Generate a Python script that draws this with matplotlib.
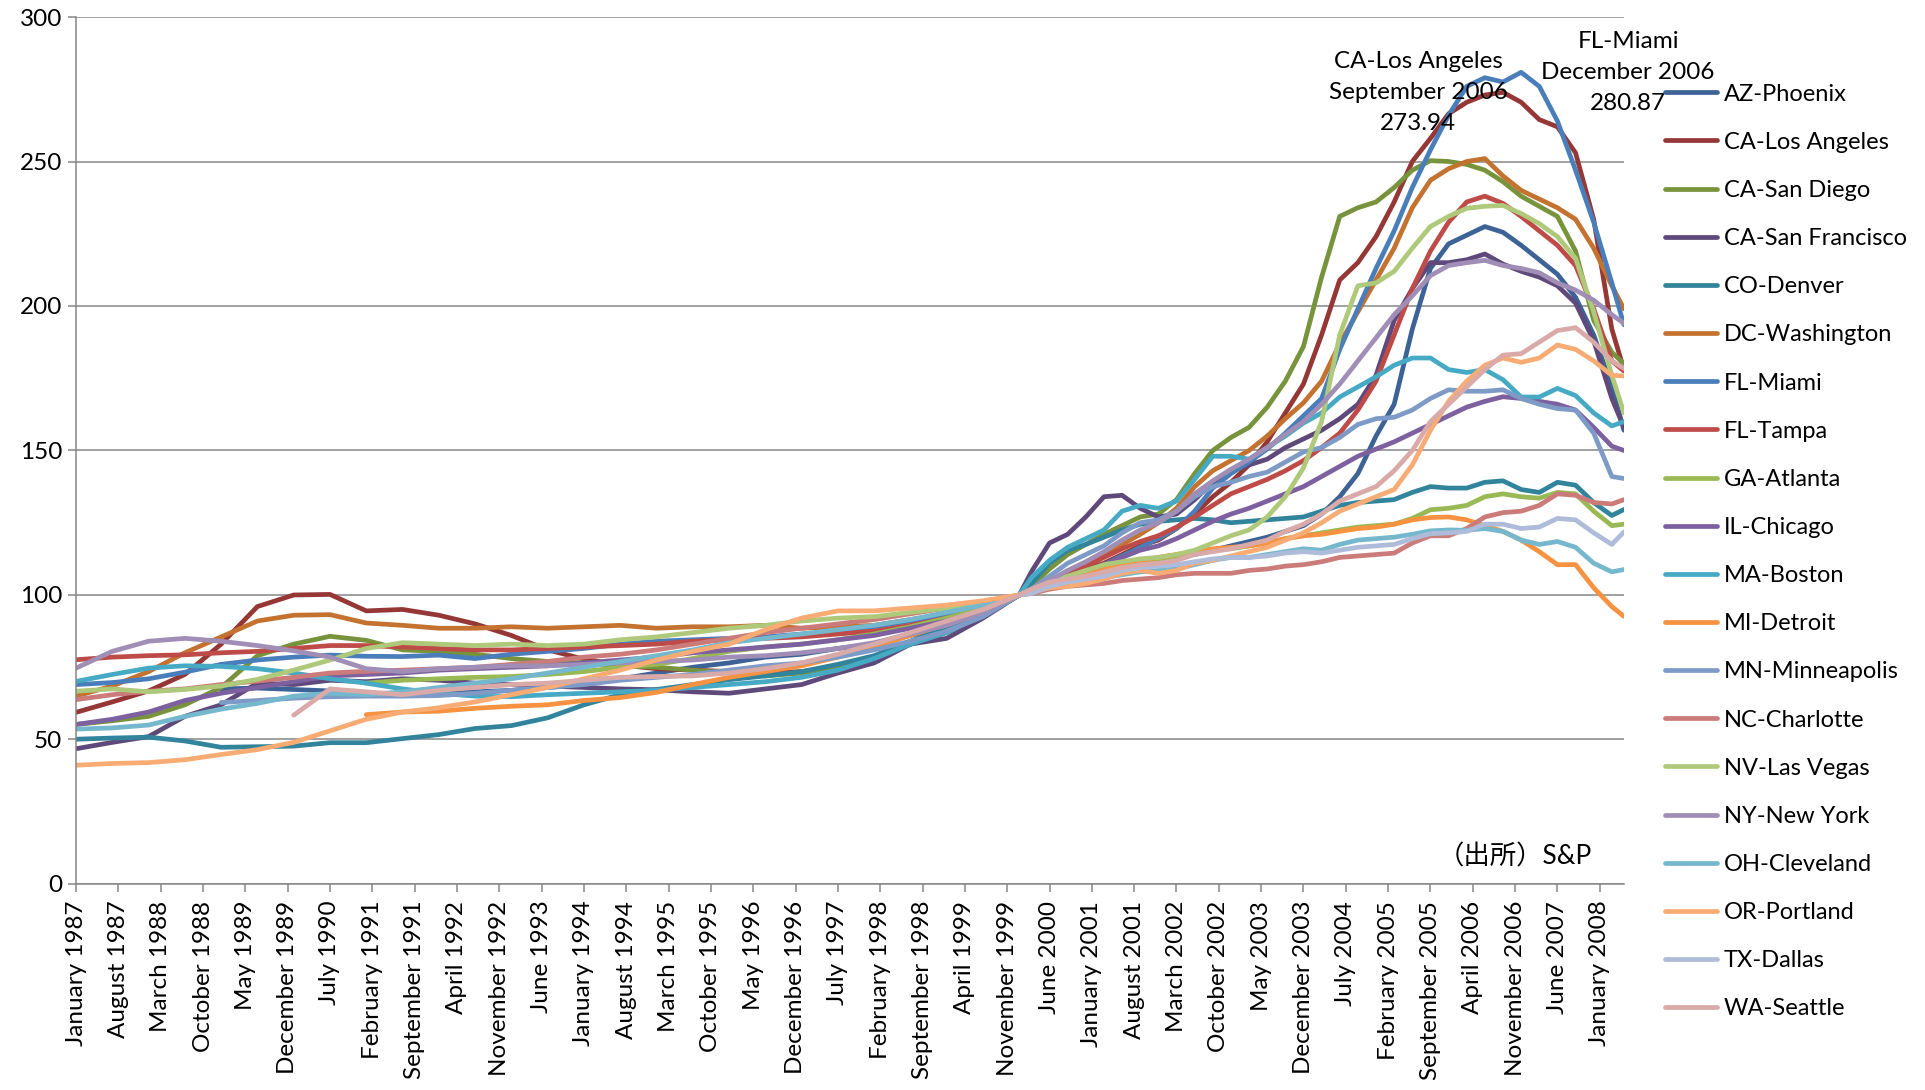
import datetime as dt
import numpy as np
import matplotlib
matplotlib.use('Agg')
import matplotlib.pyplot as plt

plt.rcParams['font.family'] = ['Lato', 'Noto Sans CJK JP', 'DejaVu Sans']

# 時点（半年ごと → 2000年以降は四半期ごと）
dates = ['1987-01', '1987-07', '1988-01', '1988-07', '1989-01', '1989-07', '1990-01', '1990-07',
         '1991-01', '1991-07', '1992-01', '1992-07', '1993-01', '1993-07', '1994-01', '1994-07',
         '1995-01', '1995-07', '1996-01', '1996-07', '1997-01', '1997-07', '1998-01', '1998-07',
         '1999-01', '1999-07',
         '2000-01',
         '2000-03', '2000-06', '2000-09', '2000-12', '2001-03', '2001-06', '2001-09', '2001-12',
         '2002-03', '2002-06', '2002-09', '2002-12', '2003-03', '2003-06', '2003-09', '2003-12',
         '2004-03', '2004-06', '2004-09', '2004-12', '2005-03', '2005-06', '2005-09', '2005-12',
         '2006-03', '2006-06', '2006-09', '2006-12', '2007-03', '2007-06', '2007-09', '2007-12',
         '2008-03', '2008-05']

tick_labels = ['January 1987', 'August 1987', 'March 1988', 'October 1988', 'May 1989',
               'December 1989', 'July 1990', 'February 1991', 'September 1991', 'April 1992',
               'November 1992', 'June 1993', 'January 1994', 'August 1994', 'March 1995',
               'October 1995', 'May 1996', 'December 1996', 'July 1997', 'February 1998',
               'September 1998', 'April 1999', 'November 1999', 'June 2000', 'January 2001',
               'August 2001', 'March 2002', 'October 2002', 'May 2003', 'December 2003',
               'July 2004', 'February 2005', 'September 2005', 'April 2006', 'November 2006',
               'June 2007', 'January 2008']

N = None
az_phoenix = [N, N, N, N, 67.5, 67.8, 67.3, 66.8, 65.5, 66.0, 65.8, 66.5, 67.0, 68.0, 69.0, 71.0,
              73.0, 75.0, 76.5, 78.5, 79.5, 81.5, 83.0, 86.0, 89.0, 93.0, 100,
              101, 104, 106.5, 108, 109.5, 111, 112, 112.5, 113.5, 114, 115.5, 117, 118.5, 120,
              122, 124, 128, 134, 142, 155, 166, 192, 213, 221.5, 224.5, 227.5, 225.5, 221,
              216, 211, 203, 190, 172, 157]
ca_los_angeles = [59.4, 63, 66.8, 72.5, 83, 96, 100, 100.2, 94.5, 95, 93, 90, 86, 81, 77.8, 75.8,
                  74.5, 74, 73.5, 73, 73.5, 75, 78.5, 83, 87.5, 93, 100,
                  102, 104.5, 107, 109, 111, 114, 117, 119, 123, 128, 134, 139, 145, 153, 163,
                  173, 190, 209, 215, 224, 236, 250, 258, 266.5, 270.5, 273, 273.94, 270.5,
                  264.5, 262, 253, 230, 192, 178]
ca_san_diego = [55.2, 56.5, 58, 62, 68, 79, 83, 85.7, 84.3, 81, 80.5, 79.5, 78, 77, 76.5, 75.5,
                75, 74, 73, 72, 73, 75, 78.5, 83, 87, 93, 100,
                103, 109, 114, 117.5, 121, 124, 127, 128, 133, 142, 150, 154.5, 158, 165, 174,
                186, 210, 231, 234, 236, 241, 247, 250.3, 250, 249, 247, 243, 238, 234.5, 231,
                219, 195, 184, 180]
ca_san_francisco = [46.8, 49, 51, 58, 62, 69.5, 69, 70.5, 70, 71, 70.5, 69.5, 69, 68.5, 68, 67.5,
                    67.2, 66.5, 66, 67.5, 69, 73, 76.5, 83, 85, 92, 100,
                    108, 118, 121, 127, 134, 134.5, 130, 127, 128, 133, 139, 143, 145, 147, 151,
                    154, 157, 161, 166, 176, 195, 206, 215, 215, 216, 218, 214.5, 212, 210, 207,
                    201, 188, 168, 158]
co_denver = [50.1, 50.5, 50.8, 49.5, 47.3, 47.5, 47.7, 48.9, 48.9, 50.3, 51.7, 53.8, 54.8, 57.5,
             62, 65.5, 67.3, 69, 70.7, 72, 73.5, 76, 79, 84, 89, 94, 100,
             104, 111, 115.5, 117.5, 120, 122.5, 124.5, 125.5, 126, 126.5, 126, 125, 125.5, 126,
             126.5, 127, 129, 131, 132, 132.5, 133, 135.5, 137.5, 137, 137, 139, 139.5, 136.5,
             135.5, 139, 138, 132, 127.5, 129.6]
dc_washington = [65, 68.5, 73.5, 80, 85.5, 91, 93, 93.2, 90.3, 89.5, 88.5, 88.5, 89, 88.5, 89,
                 89.5, 88.5, 89, 89, 89.5, 88.5, 89, 89.5, 91.5, 93.5, 96.5, 100,
                 102, 104.5, 107.5, 110, 114, 117.5, 121, 125, 130, 137.5, 143, 146.5, 150, 155,
                 161, 166.5, 174, 187, 198, 209, 220, 234, 243.5, 247.5, 250, 251, 245, 240, 237,
                 234, 230, 220, 207, 199]
fl_miami = [69, 69.7, 71, 73.3, 76, 77.5, 78.5, 79.2, 78.8, 78.7, 79.2, 78, 79.5, 80.5, 81.5, 83,
            84, 84.5, 85, 85.5, 86.5, 87.5, 89, 91, 93, 95.5, 100,
            101.5, 103.5, 105.5, 108, 110.5, 113.5, 116.5, 119.5, 123, 129, 137, 142, 146, 150.5,
            156, 162, 168, 185, 199, 213, 226, 241, 254, 266, 276, 279, 277.5, 280.87, 276, 264,
            247, 229, 208, 193.5]
fl_tampa = [77.6, 78.5, 79, 79.3, 80, 80.5, 81.5, 82.5, 82.5, 82, 81.5, 81, 81, 81.5, 82, 82.5,
            83, 84, 84.5, 85, 85.5, 86.5, 87.5, 89.5, 92, 95, 100,
            101.5, 104, 107.5, 110, 113, 116, 118.5, 120.5, 123.5, 127, 131, 135, 137.5, 140, 143,
            146.5, 151, 156, 164, 174, 190, 206, 219, 229, 236, 238, 235.5, 231, 226, 221, 214,
            199, 181, 177.5]
ga_atlanta = [N, N, N, N, N, N, N, N, 69.5, 70.5, 71, 71.5, 71.8, 72.5, 73.5, 75, 76, 78, 80.5,
              82, 83, 84.5, 86.5, 89, 92, 95.5, 100,
              101, 103.5, 105, 106.5, 108, 109.5, 111, 112, 113, 114.5, 115.5, 116, 117, 118,
              119.5, 120.5, 121.5, 122.5, 123.5, 124, 124.5, 126.5, 129.5, 130, 131, 134, 135,
              134, 133.5, 135.5, 135, 129, 124, 124.5]
il_chicago = [55.2, 57, 59.5, 63.5, 66, 68, 70, 72, 72.5, 73, 74, 74.5, 75, 75.5, 76.5, 77.5,
              78.5, 80, 81, 82, 83, 84.5, 86, 88.5, 91, 94.5, 100,
              101.5, 104, 106, 108, 110.5, 113, 115.5, 117, 119.5, 122.5, 125.5, 128, 130, 132.5,
              135, 137.5, 141, 144.5, 148, 150.5, 153, 156, 159, 162, 165, 167, 168.6, 168, 167,
              166, 164, 158, 151.5, 150]
ma_boston = [70.1, 72.5, 74.7, 75.5, 75.3, 74.5, 73, 71, 69.5, 67.5, 66, 65, 64.8, 65.5, 66, 66.5,
             67, 68, 69, 70, 71.5, 74, 78, 83, 87, 93, 100,
             106, 112, 116.5, 119.5, 122.5, 129, 131, 130, 132.5, 140, 148, 148, 147, 151, 155,
             159.5, 163, 168.5, 172, 175.5, 179.5, 182, 182, 178, 177, 178, 174.5, 168.5, 168.5,
             171.5, 169, 163, 158.5, 160]
mi_detroit = [N, N, N, N, N, N, N, N, 58.6, 59.5, 59.8, 60.8, 61.5, 62, 63.5, 64.5, 66.3, 69,
              71.5, 73.5, 75.5, 78.5, 82, 86, 90, 94, 100,
              101.5, 104, 106, 107.5, 109, 110.5, 112, 113, 114, 115, 116, 116.5, 117, 118,
              119.5, 120.5, 121, 122, 123, 123.5, 124.5, 126, 126.8, 127, 126, 124, 122, 119,
              115, 110.5, 110.5, 102.5, 96, 92.6]
mn_minneapolis = [N, N, N, N, 62.8, 63.5, 64.3, 64.8, 65, 65, 65.2, 66, 67, 68, 69, 70.5, 71.5,
                  72.5, 74, 75.5, 76.5, 78.5, 81, 84, 87.5, 92.5, 100,
                  102, 106.5, 111, 114, 117, 121.5, 125, 126, 129, 134, 137.5, 139, 141, 142.5,
                  146, 149.5, 151, 154.5, 159, 161, 161.5, 164, 168, 171, 170.5, 170.5, 171, 168,
                  166, 164.5, 164, 156, 141, 140.3]
nc_charlotte = [63.8, 65.5, 66.7, 67.5, 69, 70.2, 71.5, 73, 73.6, 74, 74.5, 75, 76, 77, 78.5,
                79.5, 81, 83, 85, 87, 88.5, 90, 91.5, 93.5, 95.5, 97.5, 100,
                100.5, 102, 103, 103.5, 104, 105, 105.5, 106, 107, 107.5, 107.5, 107.5, 108.5,
                109, 110, 110.5, 111.5, 113, 113.5, 114, 114.5, 118, 120.5, 120.5, 123, 127,
                128.5, 129, 131, 135, 134.5, 132, 131.5, 133]
nv_las_vegas = [66.7, 67.5, 66.5, 67.3, 68.5, 70.8, 74, 77.5, 81.5, 83.5, 83, 82.5, 83, 82.5, 83,
                84.5, 85.5, 87, 88.5, 89.5, 91, 92, 92.5, 94, 95.5, 97.5, 100,
                102, 104.5, 106.5, 108.5, 110.5, 111.5, 112.5, 113, 114, 115.5, 118, 120.5, 122.5,
                127, 134, 144, 160, 190, 207, 208, 212, 220, 227.5, 231, 233.8, 234.5, 234.8, 232,
                228.5, 224, 216.5, 198, 176, 163]
ny_new_york = [74.7, 80.5, 84, 85, 84, 82.5, 80.7, 78.5, 74.5, 73.5, 74.5, 75, 75.5, 75.5, 76,
               76.5, 77, 77.5, 78.5, 79, 80, 81.5, 83.5, 86.5, 89.5, 94, 100,
               102, 105, 108.5, 111.5, 115, 119, 122.5, 125, 129, 135, 139.5, 143.5, 147, 151,
               155.5, 160, 166, 173, 181, 189, 197, 203.5, 210.5, 214, 215, 215.8, 214, 213,
               211.5, 208, 205.5, 202, 197, 194]
oh_cleveland = [53.6, 54, 55, 58, 60.5, 62.5, 65, 66, 65.5, 66.5, 68, 69.5, 71, 73, 75, 77, 79,
                81, 83.5, 85, 86.5, 88, 89.5, 91.5, 94, 96.5, 100,
                101, 102.5, 104, 105, 106, 107, 108, 108.5, 109, 110.5, 112, 113, 113, 114, 115,
                116, 115.5, 117.5, 119, 119.5, 120, 121, 122.2, 122.5, 122.4, 123, 122, 119, 117.5,
                118.5, 116.5, 111, 108, 108.8]
or_portland = [41.1, 41.7, 42, 43, 44.8, 46.5, 49, 53, 57, 59.5, 61, 63, 65.5, 68, 71, 74, 77.5,
               80.5, 83, 88, 92, 94.5, 94.5, 95.5, 96.5, 98, 100,
               101, 102.5, 103, 104, 105.5, 107.5, 108.5, 107.5, 108.5, 111, 112, 113.5, 115,
               116.5, 119, 121.5, 125, 129, 131.5, 134, 136.5, 145, 157, 167, 174, 179.5, 182,
               180.5, 182, 186.5, 185, 181, 176, 175.8]
tx_dallas = [N, N, N, N, N, N, N, N, N, N, N, N, N, N, N, N, N, N, N, N, N, N, N, N, N, N, 100,
             100.5, 103, 104.5, 105.5, 106.5, 108.5, 109.5, 110, 110.5, 111.5, 112.5, 113, 113,
             113.5, 114.5, 115, 114.5, 115.5, 116.5, 117, 117.5, 119.5, 121.2, 121.5, 122, 124.5,
             124.5, 123, 123.5, 126.5, 126, 121.5, 117.5, 121.8]
wa_seattle = [N, N, N, N, N, N, 58.4, 67.5, 66.5, 65.5, 67, 68, 69, 69.5, 70.5, 71.5, 71.8, 72,
              73, 74.5, 76.5, 79.5, 83, 87, 91, 95, 100,
              102, 104.5, 105.5, 106.5, 108, 109.5, 110.5, 111, 112, 114, 115, 116, 117.5, 119,
              122, 124.5, 128, 132.5, 135, 137.5, 143, 150, 160, 166, 172, 178, 183, 183.5, 187.5,
              191.5, 192.5, 187.5, 181, 178.4]

cities = ['AZ-Phoenix', 'CA-Los Angeles', 'CA-San Diego', 'CA-San Francisco', 'CO-Denver',
          'DC-Washington', 'FL-Miami', 'FL-Tampa', 'GA-Atlanta', 'IL-Chicago', 'MA-Boston',
          'MI-Detroit', 'MN-Minneapolis', 'NC-Charlotte', 'NV-Las Vegas', 'NY-New York',
          'OH-Cleveland', 'OR-Portland', 'TX-Dallas', 'WA-Seattle']
series = [az_phoenix, ca_los_angeles, ca_san_diego, ca_san_francisco, co_denver, dc_washington,
          fl_miami, fl_tampa, ga_atlanta, il_chicago, ma_boston, mi_detroit, mn_minneapolis,
          nc_charlotte, nv_las_vegas, ny_new_york, oh_cleveland, or_portland, tx_dallas, wa_seattle]
colors = ['#3C6296', '#953735', '#77933C', '#5F497A', '#31849B', '#C4722F', '#4A7EBB', '#BE4B48',
          '#98B954', '#7D60A0', '#46AAC5', '#F69240', '#7E9BC8', '#CB7B79', '#AFC97A', '#A08EB6',
          '#75B8CE', '#F9AB74', '#AEBCDA', '#D9AAA8']


def month_index(s):
    d = dt.datetime.strptime(s, '%Y-%m')
    return (d.year - 1987) * 12 + d.month - 1


x = np.array([month_index(d) for d in dates])
tick_pos = [month_index(dt.datetime.strptime(t, '%B %Y').strftime('%Y-%m')) for t in tick_labels]

fig = plt.figure(figsize=(19.25, 10.9), dpi=100)
ax = fig.add_axes([0.0395, 0.189, 0.8041, 0.7954])

grid_c = '#868686'
for name, vals, c in zip(cities, series, colors):
    y = np.array([np.nan if v is None else v for v in vals], dtype=float)
    ax.plot(x, y, color=c, lw=3.4, label=name, solid_capstyle='round', solid_joinstyle='round')

ax.set_xlim(x[0], x[-1])
ax.set_ylim(0, 300)
ax.set_yticks(range(0, 301, 50))
ax.set_xticks(tick_pos)
ax.set_xticklabels(tick_labels, rotation=90, fontsize=17.5)
ax.tick_params(axis='y', labelsize=17.5, length=6, width=1.1, color=grid_c, pad=4)
ax.tick_params(axis='x', length=6, width=1.1, color=grid_c, pad=6)
ax.grid(axis='y', color=grid_c, lw=1.1)
ax.set_axisbelow(True)
for s in ['top', 'right']:
    ax.spines[s].set_visible(False)
for s in ['left', 'bottom']:
    ax.spines[s].set_color(grid_c)
    ax.spines[s].set_linewidth(1.1)

# ピークのラベル
for name, dx in [('CA-Los Angeles', -85), ('FL-Miami', 107)]:
    vals = np.array([np.nan if v is None else v for v in series[cities.index(name)]], dtype=float)
    i = int(np.nanargmax(vals))
    when = dt.datetime.strptime(dates[i], '%Y-%m').strftime('%B %Y')
    ax.annotate('%s\n%s\n%.2f' % (name, when, vals[i]), xy=(x[i], vals[i]), xytext=(dx, 0),
                textcoords='offset pixels', ha='center', va='center', fontsize=17.5,
                linespacing=1.6, annotation_clip=False)

ax.text(0.979, 0.031, '（出所）S&P', transform=ax.transAxes, ha='right', va='center', fontsize=19)

fig.legend(loc='center left', bbox_to_anchor=(0.8649, 0.494), frameon=False, fontsize=17,
           handlelength=2.2, handletextpad=0.3, labelspacing=1.15, borderpad=0, borderaxespad=0)

fig.savefig('out.png', dpi=100)
